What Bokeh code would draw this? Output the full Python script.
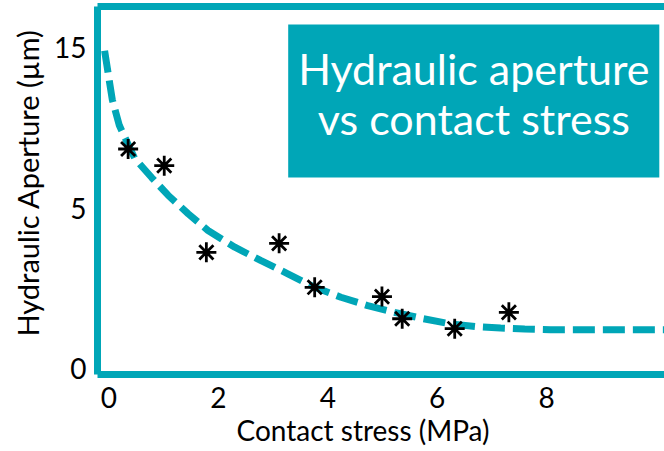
from bokeh.plotting import figure
from bokeh.models import (Range1d, LinearAxis, FixedTicker, Label, BoxAnnotation,
                          ColumnDataSource, Title)
from bokeh.embed import file_html
from bokeh.resources import INLINE

# ---- data ----
stress = [0.35, 1.01, 1.78, 3.11, 3.76, 4.99, 5.36, 6.32, 7.31]
aperture = [6.84, 6.32, 3.62, 3.90, 2.53, 2.24, 1.55, 1.24, 1.75]

fit_x = [-0.08, 0.06, 0.19, 0.47, 0.78, 1.08, 1.45, 1.81, 2.30, 2.78, 3.27, 3.76,
         4.24, 4.73, 5.22, 5.75, 6.25, 6.75, 7.16, 7.60, 8.07, 9.00, 10.2]
fit_y = [9.90, 8.38, 7.57, 6.55, 5.95, 5.40, 4.82, 4.30, 3.78, 3.36, 2.95, 2.53,
         2.22, 1.96, 1.75, 1.55, 1.39, 1.30, 1.26, 1.23, 1.21, 1.21, 1.21]

x_ticks = [0, 2, 4, 6, 8]
y_ticks = [0, 5, 10]
y_tick_labels = {10: "15"}

TEAL = "#00A6B7"
FONT = "Lato"

p = figure(width=664, height=451, output_backend="svg", toolbar_location=None,
           x_range=Range1d(-0.21, 10.155), y_range=Range1d(-0.187, 11.28),
           min_border_left=96, min_border_right=0, min_border_top=6,
           min_border_bottom=77)
p.outline_line_color = None
p.grid.visible = False
p.background_fill_color = "white"
p.border_fill_color = "white"

for ax in (p.xaxis[0], p.yaxis[0]):
    ax.axis_line_color = TEAL
    ax.axis_line_width = 7
    ax.major_tick_line_color = None
    ax.minor_tick_line_color = None
    ax.major_label_text_font = FONT
    ax.major_label_text_font_size = "28px"
    ax.major_label_text_color = "black"

p.xaxis[0].ticker = FixedTicker(ticks=x_ticks)
p.xaxis[0].major_label_standoff = 6
p.yaxis[0].ticker = FixedTicker(ticks=y_ticks)
p.yaxis[0].major_label_overrides = y_tick_labels
p.yaxis[0].major_tick_out = 0
p.yaxis[0].major_tick_in = 0
p.yaxis[0].major_label_standoff = 11

top_axis = LinearAxis(ticker=FixedTicker(ticks=[]), axis_line_color=TEAL,
                      axis_line_width=7, major_tick_line_color=None,
                      minor_tick_line_color=None, major_label_text_font_size="0px",
                      major_label_standoff=0)
p.add_layout(top_axis, "above")

fit_src = ColumnDataSource(dict(x=fit_x, y=fit_y))
p.line("x", "y", source=fit_src, line_color=TEAL, line_width=7,
       line_dash="22 8", line_cap="butt")

pts = ColumnDataSource(dict(x=stress, y=aperture))
p.scatter("x", "y", source=pts, marker="asterisk", size=20, line_color="black",
          line_width=2.8)

box = BoxAnnotation(left=3.276, right=10.06, top=10.72, bottom=5.95,
                    fill_color=TEAL, fill_alpha=1.0, line_color=None)
p.add_layout(box)
p.add_layout(Label(x=6.67, y=9.35, text="Hydraulic aperture", text_font=FONT,
                   text_font_size="43px", text_color="white", text_align="center",
                   text_baseline="middle"))
p.add_layout(Label(x=6.67, y=7.8, text="vs contact stress", text_font=FONT,
                   text_font_size="43px", text_color="white", text_align="center",
                   text_baseline="middle"))

p.add_layout(Title(text="Contact stress (MPa)", text_font=FONT,
                   text_font_size="28px", text_font_style="normal",
                   text_color="black", align="left", offset=139, standoff=0),
             "below")
p.add_layout(Title(text="Hydraulic Aperture (µm)", text_font=FONT,
                   text_font_size="29px", text_font_style="normal",
                   text_color="black", align="left", offset=38, standoff=14),
             "left")

open("out.html", "w").write(file_html(p, INLINE))
